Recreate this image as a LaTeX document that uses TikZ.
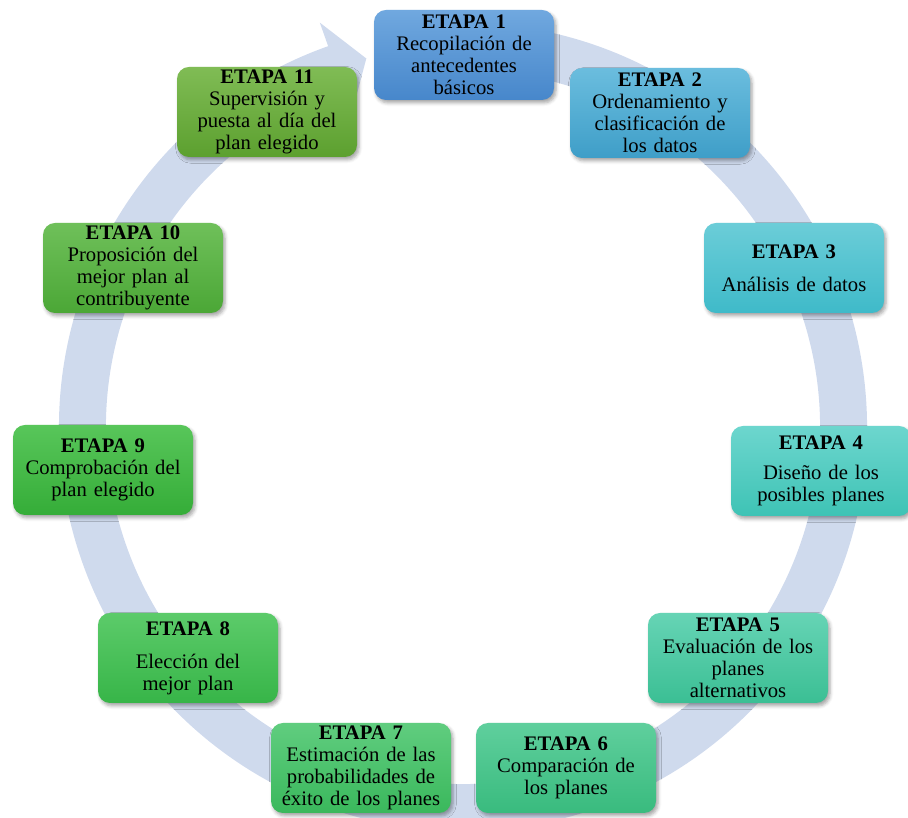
\documentclass[tikz,border=0pt]{standalone}
\usepackage{fontspec}
\setmainfont{Liberation Serif}
\usetikzlibrary{shadows.blur}
\definecolor{bandcol}{HTML}{CFDAED}
\definecolor{t1}{HTML}{70A8DF}\definecolor{b1}{HTML}{4787CB}
\definecolor{t2}{HTML}{6BBDDE}\definecolor{b2}{HTML}{3E9EC8}
\definecolor{t3}{HTML}{6BCDD8}\definecolor{b3}{HTML}{3FBAC9}
\definecolor{t4}{HTML}{6DD6CE}\definecolor{b4}{HTML}{3EC3B5}
\definecolor{t5}{HTML}{66D4B5}\definecolor{b5}{HTML}{3BBF94}
\definecolor{t6}{HTML}{5FCF9D}\definecolor{b6}{HTML}{39BB7E}
\definecolor{t7}{HTML}{60CD7F}\definecolor{b7}{HTML}{3AB85C}
\definecolor{t8}{HTML}{5CCB6A}\definecolor{b8}{HTML}{37B548}
\definecolor{t9}{HTML}{58C65A}\definecolor{b9}{HTML}{35AD38}
\definecolor{t10}{HTML}{6FC05A}\definecolor{b10}{HTML}{4BA736}
\definecolor{t11}{HTML}{80BC55}\definecolor{b11}{HTML}{5CA02F}
\begin{document}
\begin{tikzpicture}[x=0.75pt,y=0.75pt,
  stagebox/.style={rounded corners=9pt, minimum width=135pt, minimum height=67.5pt,
    text width=128pt, align=center, inner sep=1pt,
    font=\fontsize{15.5}{16.5}\selectfont, text=black,
    blur shadow={shadow xshift=1.5pt, shadow yshift=-2.2pt, shadow blur radius=2.5pt, shadow opacity=35}},
  etapa/.style={stagebox, top color=t#1, bottom color=b#1}
]
\useasboundingbox (0,0) rectangle (908,818);
% circular arrow band
\begin{scope}[shift={(463,391)}]
\fill[bandcol] (100:404) arc[start angle=100, end angle=-250.5, radius=404]
  -- (-250.5:429) -- (-255.3:381) -- (-250.5:333) -- (-250.5:357)
  arc[start angle=-250.5, end angle=100, radius=357] -- cycle;
\end{scope}
% stages
\node[etapa=1] (e1) at (464,763) {\textbf{ETAPA 1}\\Recopilación de\\antecedentes\\básicos};
\node[etapa=2] (e2) at (660,705) {\textbf{ETAPA 2}\\Ordenamiento y\\clasificación de\\los datos};
\node[etapa=3] (e3) at (794,550) {\textbf{ETAPA 3}\\[8pt]Análisis de datos};
\node[etapa=4] (e4) at (821,347) {\textbf{ETAPA 4}\\[6pt]Diseño de los\\posibles planes};
\node[etapa=5] (e5) at (738,160) {\textbf{ETAPA 5}\\Evaluación de los\\planes\\alternativos};
\node[etapa=6] (e6) at (566,50) {\textbf{ETAPA 6}\\Comparación de\\los planes};
\node[etapa=7] (e7) at (361,50) {\textbf{ETAPA 7}\\Estimación de las\\probabilidades de\\éxito de los planes};
\node[etapa=8] (e8) at (188,160) {\textbf{ETAPA 8}\\[8pt]Elección del\\mejor plan};
\node[etapa=9] (e9) at (103,348) {\textbf{ETAPA 9}\\Comprobación del\\plan elegido};
\node[etapa=10] (e10) at (133,550) {\textbf{ETAPA 10}\\Proposición del\\mejor plan al\\contribuyente};
\node[etapa=11] (e11) at (267,706) {\textbf{ETAPA 11}\\Supervisión y\\puesta al día del\\plan elegido};
\end{tikzpicture}
\end{document}
